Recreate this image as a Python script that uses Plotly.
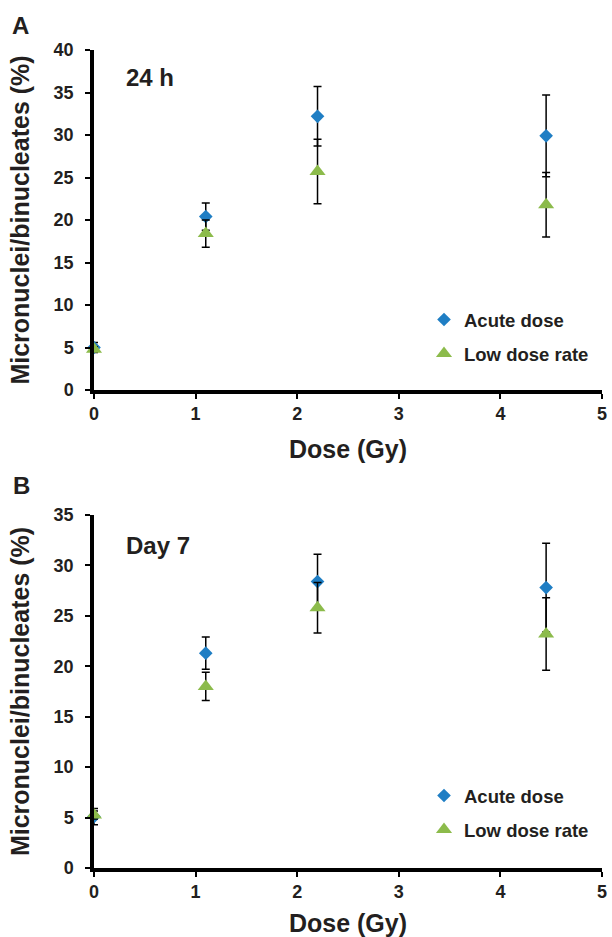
import plotly.graph_objects as go

dose = [0, 1.1, 2.2, 4.45]

# Panel A (24 h)
a_acute = [5.0, 20.4, 32.2, 29.9]
a_acute_err = [0.6, 1.6, 3.5, 4.8]
a_ldr = [4.8, 18.4, 25.7, 21.8]
a_ldr_err = [0.3, 1.6, 3.8, 3.8]

# Panel B (Day 7)
b_acute = [5.1, 21.3, 28.4, 27.8]
b_acute_err = [0.8, 1.6, 2.7, 4.4]
b_ldr = [5.25, 18.0, 25.8, 23.2]
b_ldr_err = [0.4, 1.4, 2.5, 3.6]

x_ticks = [0, 1, 2, 3, 4, 5]
a_y_ticks = [0, 5, 10, 15, 20, 25, 30, 35, 40]
b_y_ticks = [0, 5, 10, 15, 20, 25, 30, 35]

BLUE = "#1f7ec4"
GREEN = "#8cbb4b"
INK = "#231f20"
W, H = 612, 937
SANS = "Liberation Sans, Arial, Helvetica"

def px_y(p):
    return 1 - p / H

def px_x(p):
    return p / W

fig = go.Figure()

def add_panel(xa, ya, acute, acute_err, ldr, ldr_err, legend):
    fig.add_trace(go.Scatter(
        x=dose, y=acute, mode="markers", name="Acute dose",
        xaxis=xa, yaxis=ya, legend=legend, legendgroup=legend + "a",
        marker=dict(symbol="diamond", size=10.5, color=BLUE),
        error_y=dict(type="data", array=acute_err, color="black", thickness=1.5, width=4),
        cliponaxis=False,
    ))
    fig.add_trace(go.Scatter(
        x=dose, y=ldr, mode="markers", name="Low dose rate",
        xaxis=xa, yaxis=ya, legend=legend, legendgroup=legend + "b",
        marker=dict(symbol="triangle-up", size=14, color=GREEN),
        error_y=dict(type="data", array=ldr_err, color="black", thickness=1.5, width=4),
        cliponaxis=False,
    ))

add_panel("x", "y", a_acute, a_acute_err, a_ldr, a_ldr_err, "legend")
add_panel("x2", "y2", b_acute, b_acute_err, b_ldr, b_ldr_err, "legend2")

axis_common = dict(
    showline=True, linecolor="black", linewidth=3.5, mirror=False,
    ticks="outside", ticklen=5, tickwidth=2, tickcolor="black",
    showgrid=False, zeroline=False, automargin=False,
    tickfont=dict(family=SANS, size=18, color=INK, weight="bold"),
)
title_font = dict(family=SANS, size=25, color=INK, weight="bold")

xdom = [px_x(94), px_x(602)]
fig.update_layout(
    xaxis=dict(domain=xdom, anchor="y", range=[0, 5], tickvals=x_ticks,
               title=dict(text="Dose (Gy)", font=title_font, standoff=18), **axis_common),
    yaxis=dict(domain=[px_y(390), px_y(50)], anchor="x", range=[0, 40], tickvals=a_y_ticks,
               ticklabelstandoff=8,
               title=dict(text="Micronuclei/binucleates (%)", font=title_font, standoff=18),
               **axis_common),
    xaxis2=dict(domain=xdom, anchor="y2", range=[0, 5], tickvals=x_ticks,
                title=dict(text="Dose (Gy)", font=title_font, standoff=18), **axis_common),
    yaxis2=dict(domain=[px_y(868), px_y(515)], anchor="x2", range=[0, 35], tickvals=b_y_ticks,
                ticklabelstandoff=8,
                title=dict(text="Micronuclei/binucleates (%)", font=title_font, standoff=18),
                **axis_common),
)

legend_common = dict(
    font=dict(family=SANS, size=18.5, color=INK, weight="bold"),
    bgcolor="rgba(0,0,0,0)", traceorder="grouped", tracegroupgap=7,
    xanchor="left", yanchor="top", itemwidth=30,
)
fig.update_layout(
    legend=dict(x=px_x(424), y=px_y(301), **legend_common),
    legend2=dict(x=px_x(424), y=px_y(777), **legend_common),
)

ann_font = dict(family=SANS, size=24, color=INK, weight="bold")
fig.add_annotation(x=px_x(124), y=px_y(77), xref="paper", yref="paper", text="24 h",
                   showarrow=False, xanchor="left", yanchor="middle", font=ann_font)
fig.add_annotation(x=px_x(124), y=px_y(545), xref="paper", yref="paper", text="Day 7",
                   showarrow=False, xanchor="left", yanchor="middle", font=ann_font)
fig.add_annotation(x=px_x(10), y=px_y(26), xref="paper", yref="paper", text="A",
                   showarrow=False, xanchor="left", yanchor="middle", font=ann_font)
fig.add_annotation(x=px_x(11), y=px_y(485), xref="paper", yref="paper", text="B",
                   showarrow=False, xanchor="left", yanchor="middle", font=ann_font)

fig.update_layout(
    width=W, height=H, margin=dict(l=0, r=0, t=0, b=0),
    paper_bgcolor="white", plot_bgcolor="white", showlegend=True,
)

fig.write_html("out.html", config={"displayModeBar": False},
               post_script="document.body.style.margin='0';")
